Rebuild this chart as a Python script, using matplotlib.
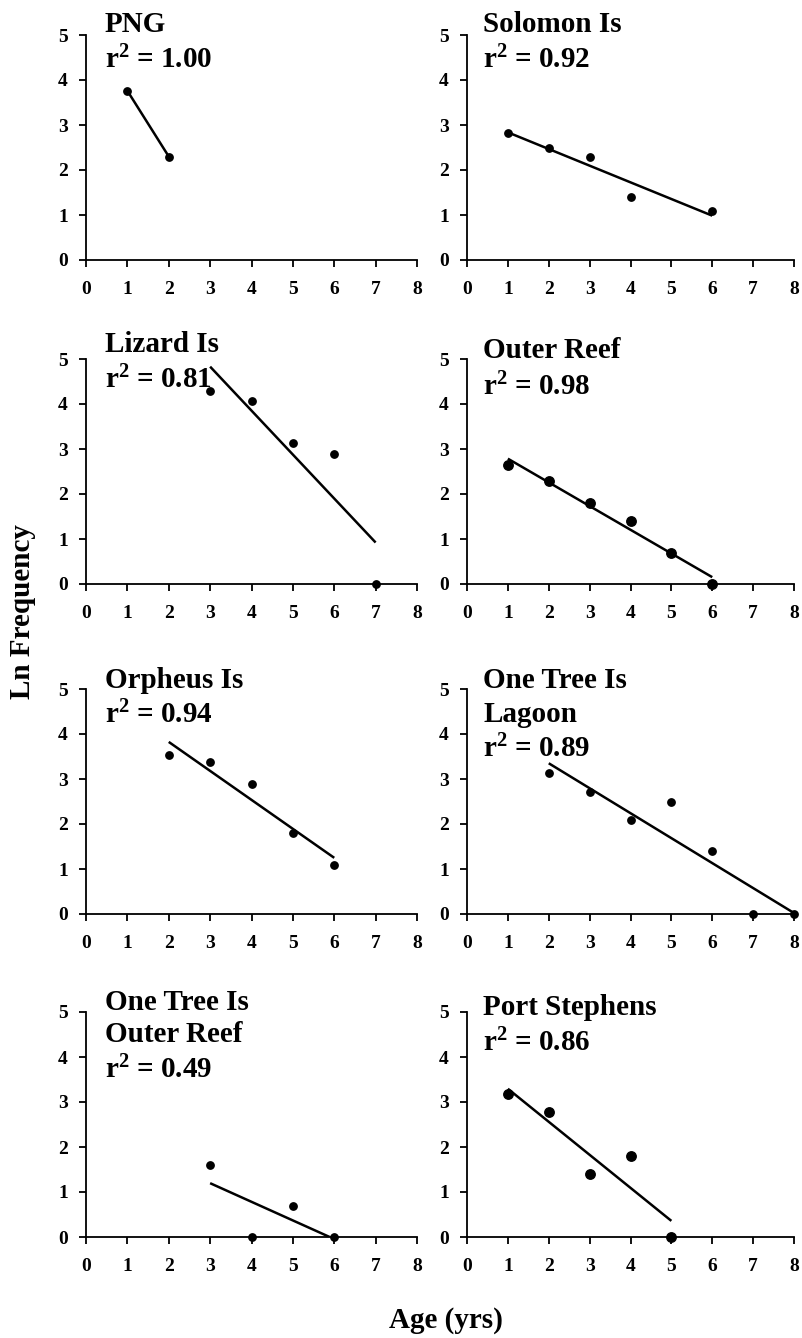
import numpy as np
import matplotlib
matplotlib.use("Agg")
import matplotlib.pyplot as plt

plt.rcParams['font.family'] = ['Liberation Serif', 'DejaVu Serif']
plt.rcParams['font.weight'] = 'bold'
plt.rcParams['mathtext.fontset'] = 'custom'
plt.rcParams['mathtext.rm'] = 'Liberation Serif:bold'
plt.rcParams['mathtext.bf'] = 'Liberation Serif:bold'
plt.rcParams['mathtext.it'] = 'Liberation Serif:bold'

# ---- data ----
sites = ["PNG", "Solomon Is", "Lizard Is", "Outer Reef", "Orpheus Is",
         "One Tree Is\nLagoon", "One Tree Is\nOuter Reef", "Port Stephens"]
r2_labels = ["1.00", "0.92", "0.81", "0.98", "0.94", "0.89", "0.49", "0.86"]

png_x = [1, 2]
png_y = [3.76, 2.30]
sol_x = [1, 2, 3, 4, 6]
sol_y = [2.83, 2.49, 2.30, 1.39, 1.10]
liz_x = [3, 4, 5, 6, 7]
liz_y = [4.30, 4.06, 3.13, 2.89, 0.0]
outer_x = [1, 2, 3, 4, 5, 6]
outer_y = [2.64, 2.30, 1.79, 1.39, 0.69, 0.0]
orph_x = [2, 3, 4, 5, 6]
orph_y = [3.53, 3.37, 2.89, 1.79, 1.10]
otl_x = [2, 3, 4, 5, 6, 7, 8]
otl_y = [3.14, 2.71, 2.08, 2.48, 1.39, 0.0, 0.0]
otr_x = [3, 4, 5, 6]
otr_y = [1.61, 0.0, 0.69, 0.0]
ps_x = [1, 2, 3, 4, 5]
ps_y = [3.18, 2.77, 1.39, 1.79, 0.0]

x_ticks = [0, 1, 2, 3, 4, 5, 6, 7, 8]
y_ticks = [0, 1, 2, 3, 4, 5]

series = [(png_x, png_y), (sol_x, sol_y), (liz_x, liz_y), (outer_x, outer_y),
          (orph_x, orph_y), (otl_x, otl_y), (otr_x, otr_y), (ps_x, ps_y)]

# ---- layout / style ----
W, H = 802, 1338
fig = plt.figure(figsize=(W / 100, H / 100), dpi=100)

col_px = [(86, 331), (467, 327)]          # left, width in px
row_px = [260, 584, 914, 1237]            # bottom of axes in px
ax_h_px = 225
marker_sizes = [5.3, 5.3, 5.3, 6.8, 5.3, 5.3, 5.3, 6.8]
# baselines of the label lines (px from top), per panel
label_base_px = [[32, 68], [32, 68], [352, 388], [358, 395],
                 [688, 723], [688, 722, 757], [1010, 1042, 1078], [1015, 1051]]
label_x_frac = [0.057, 0.049]

for i, (xs, ys) in enumerate(series):
    r, c = divmod(i, 2)
    left, width = col_px[c]
    bottom = row_px[r]
    ax = fig.add_axes([left / W, 1 - bottom / H, width / W, ax_h_px / H])
    xs_a = np.array(xs, dtype=float)
    ys_a = np.array(ys, dtype=float)
    slope, icpt = np.polyfit(xs_a, ys_a, 1)
    xl = np.array([xs_a.min(), xs_a.max()])
    ax.plot(xl, slope * xl + icpt, color='black', lw=1.8, solid_capstyle='butt',
            zorder=3)
    ax.plot(xs_a, ys_a, 'o', color='black', ms=marker_sizes[i], clip_on=False,
            zorder=4)
    ax.set_xlim(0, 8)
    ax.set_ylim(0, 5)
    ax.set_xticks(x_ticks)
    ax.set_yticks(y_ticks)
    ax.set_xticklabels([str(t) for t in x_ticks])
    ax.set_yticklabels([str(t) for t in y_ticks])
    for s in ['top', 'right']:
        ax.spines[s].set_visible(False)
    for s in ['left', 'bottom']:
        ax.spines[s].set_linewidth(1.3)
    ax.tick_params(axis='both', direction='out', length=5, width=1.3,
                   labelsize=14, colors='black')
    ax.tick_params(axis='x', pad=10)
    ax.tick_params(axis='y', pad=8)
    for lab in ax.get_xticklabels() + ax.get_yticklabels():
        lab.set_fontweight('bold')

    lines = sites[i].split("\n") + [r"r$^{\mathbf{2}}$ = " + r2_labels[i]]
    for j, line in enumerate(lines):
        yb = (bottom - label_base_px[i][j]) / ax_h_px
        ax.text(label_x_frac[c], yb, line, transform=ax.transAxes,
                fontsize=21, fontweight='bold', va='baseline', ha='left',
                zorder=5)

fig.text(23 / W, 1 - 612 / H, "Ln Frequency", rotation=90, fontsize=21,
         fontweight='bold', ha='center', va='center')
fig.text(446 / W, 1 - 1321 / H, "Age (yrs)", fontsize=21, fontweight='bold',
         ha='center', va='center')

fig.savefig("out.png", dpi=100, facecolor='white')
